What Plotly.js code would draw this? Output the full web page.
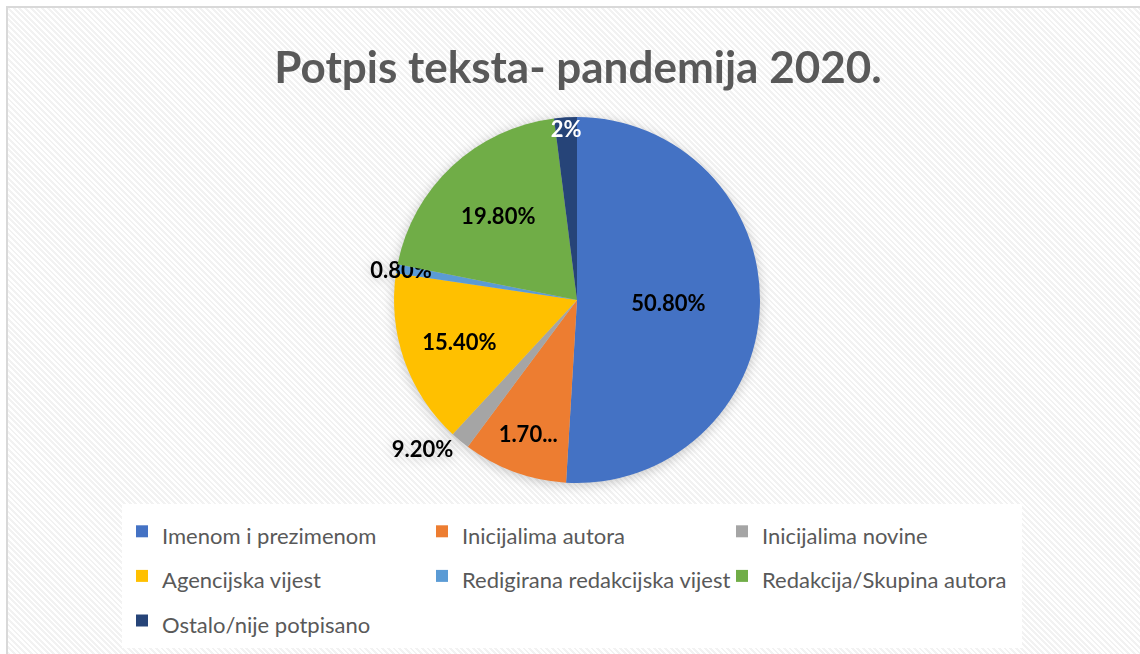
<!DOCTYPE html>
<html>
<head>
<meta charset="utf-8">
<script src="https://cdn.plot.ly/plotly-3.0.1.min.js"></script>
<style>
  html, body { margin: 0; padding: 0; background: #ffffff; overflow: hidden; }
  #bg {
    position: absolute; left: 6px; top: 6px; width: 1200px; height: 700px;
    border-left: 2px solid #d9d9d9; border-top: 2px solid #d9d9d9;
    background: repeating-linear-gradient(45deg, #ffffff 0px, #ffffff 2px, #f2f2f2 2px, #f2f2f2 4px);
  }
  #chart { position: absolute; left: 0; top: 0; width: 1140px; height: 654px; }
  #chart .pielayer .trace { filter: drop-shadow(0px 2px 6px rgba(0,0,0,0.22)); }
</style>
</head>
<body>
<div id="bg"></div>
<div id="chart"></div>
<script>
// Data
const categories = [
  'Imenom i prezimenom',
  'Inicijalima autora',
  'Inicijalima novine',
  'Agencijska vijest',
  'Redigirana redakcijska vijest',
  'Redakcija/Skupina autora',
  'Ostalo/nije potpisano'
];
const shares = [50.8, 9.2, 1.7, 15.4, 0.8, 19.8, 2];
// Data labels exactly as they appear on the reference
const sliceLabels = ['50.80%', '1.70...', '9.20%', '15.40%', '0.80%', '19.80%', '2%'];
const sliceColors = ['#4472C4', '#ED7D31', '#A5A5A5', '#FFC000', '#5B9BD5', '#70AD47', '#264478'];
const labelPositions = ['inside', 'inside', 'outside', 'inside', 'inside', 'inside', 'inside'];
const labelColors = ['#000000', '#000000', '#000000', '#000000', '#000000', '#000000', '#ffffff'];

const W = 1140, H = 654;
const cx = 577, cy = 300, R = 183;

const trace = {
  type: 'pie',
  labels: categories.map(c => '<span style="font-size:22px">' + c + '</span>'),
  values: shares,
  text: sliceLabels,
  textinfo: 'text',
  hoverinfo: 'label+percent',
  sort: false,
  direction: 'clockwise',
  rotation: 0,
  textposition: labelPositions,
  insidetextorientation: 'horizontal',
  textfont: { family: 'Lato, sans-serif', size: 22, color: labelColors, weight: 'bold' },
  marker: { colors: sliceColors, line: { color: '#ffffff', width: 0 } },
  automargin: false,
  domain: {
    x: [(cx - R) / W, (cx + R) / W],
    y: [(H - cy - R) / H, (H - cy + R) / H]
  }
};

const layout = {
  width: W, height: H,
  margin: { l: 0, r: 0, t: 0, b: 0, autoexpand: false },
  paper_bgcolor: 'rgba(0,0,0,0)',
  plot_bgcolor: 'rgba(0,0,0,0)',
  uniformtext: { mode: 'show', minsize: 22 },
  title: {
    text: '<b>Potpis teksta- pandemija 2020.</b>',
    font: { family: 'Lato, sans-serif', size: 44, color: '#595959' },
    x: 578 / W, xanchor: 'center',
    y: 1 - 68 / H, yanchor: 'middle'
  },
  showlegend: true,
  legend: {
    orientation: 'h',
    x: 122 / W, xanchor: 'left',
    y: (H - 504) / H, yanchor: 'top',
    bgcolor: '#ffffff',
    entrywidth: 255, entrywidthmode: 'pixels',
    font: { family: 'Lato, sans-serif', size: 32, color: '#595959' },
    traceorder: 'normal'
  }
};

Plotly.newPlot('chart', [trace], layout, { displayModeBar: false, staticPlot: true });
</script>
</body>
</html>
